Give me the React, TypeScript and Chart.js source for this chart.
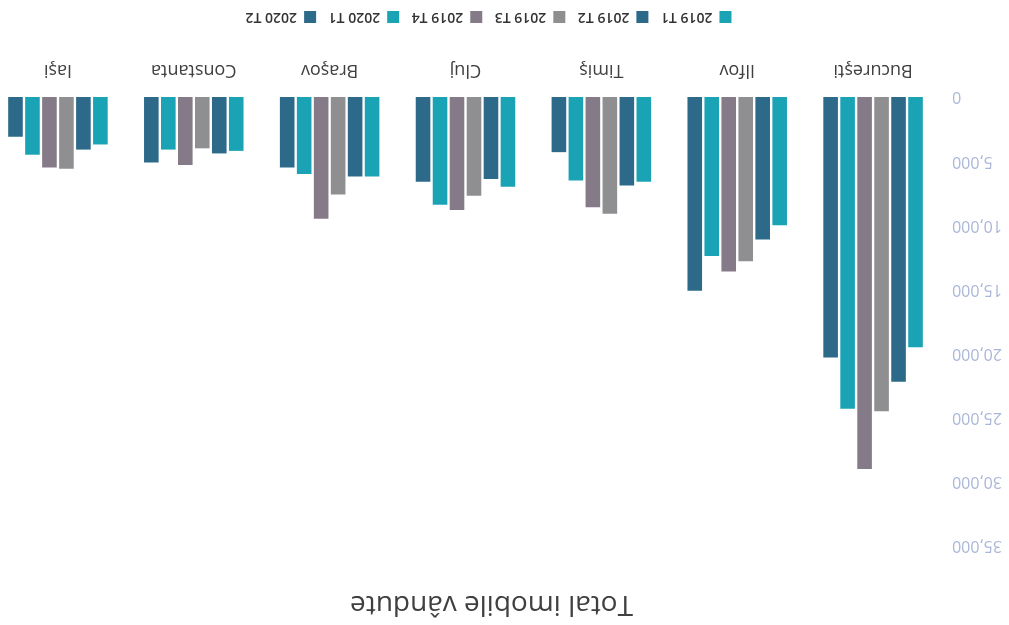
import { useEffect, useRef } from 'react';
import { Chart, registerables } from 'chart.js';

Chart.register(...registerables);

const categories = ['Bucureşti', 'Ilfov', 'Timiş', 'Cluj', 'Braşov', 'Constanta', 'Iaşi'];
const seriesNames = ['2019 T1', '2019 T2', '2019 T3', '2019 T4', '2020 T1', '2020 T2'];
const s2019T1 = [19500, 10000, 6600, 7000, 6200, 4200, 3700];
const s2019T2 = [22200, 11100, 6900, 6400, 6200, 4400, 4100];
const s2019T3 = [24500, 12800, 9100, 7700, 7600, 4000, 5600];
const s2019T4 = [29000, 13600, 8600, 8800, 9500, 5300, 5500];
const s2020T1 = [24300, 12400, 6500, 8400, 6000, 4100, 4500];
const s2020T2 = [20300, 15100, 4300, 6600, 5500, 5100, 3100];
const seriesValues = [s2019T1, s2019T2, s2019T3, s2019T4, s2020T1, s2020T2];
const seriesColors = ['#1aa3b5', '#2d6a89', '#8f8e91', '#857a87', '#1aa3b5', '#2d6a89'];
const yMin = 0;
const yMax = 35000;
const yStep = 5000;
const titleText = 'Total imobile vândute';

const FONT = '"Open Sans", "Noto Sans", sans-serif';

// nudges the centred title and legend blocks sideways, as in the reference
const blockShift = {
  id: 'blockShift',
  afterLayout(chart: any) {
    for (const b of chart.boxes) {
      if (b === chart.titleBlock) {
        b.left += 8;
        b.right += 8;
      } else if (b === chart.legend) {
        b.left += 11;
        b.right += 11;
      }
    }
  },
};

export default function App() {
  const ref = useRef<HTMLCanvasElement>(null);

  useEffect(() => {
    if (!ref.current) return;
    const chart = new Chart(ref.current, {
      type: 'bar',
      data: {
        labels: categories,
        datasets: seriesNames.map((name, i) => ({
          label: name,
          data: seriesValues[i],
          backgroundColor: seriesColors[i],
          borderWidth: 0,
          categoryPercentage: 0.75,
          barPercentage: 0.86,
        })),
      },
      plugins: [blockShift],
      options: {
        responsive: false,
        animation: false,
        devicePixelRatio: 1,
        layout: { padding: { left: 0, right: 1, top: 0, bottom: 0 } },
        plugins: {
          title: {
            display: true,
            text: titleText,
            color: '#404040',
            font: { family: FONT, size: 28, weight: 'normal' },
            padding: { top: 4, bottom: 41.4 },
          },
          legend: {
            position: 'bottom',
            labels: {
              boxWidth: 12,
              boxHeight: 12,
              padding: 12.5,
              color: '#333333',
              font: { family: FONT, size: 14, weight: '600' },
            },
          },
          tooltip: { enabled: false },
        },
        scales: {
          x: {
            grid: { display: false, drawTicks: false },
            border: { display: false },
            ticks: {
              padding: 16,
              color: '#404040',
              font: { family: FONT, size: 18 },
            },
            afterFit: (s: any) => {
              s.height = 60.5;
            },
          },
          y: {
            min: yMin,
            max: yMax,
            grid: { display: false, drawTicks: false },
            border: { display: false },
            ticks: {
              stepSize: yStep,
              padding: 11,
              color: '#a9b6d6',
              font: { family: FONT, size: 16 },
            },
            afterFit: (s: any) => {
              s.width = 68;
            },
          },
        },
      },
    });
    return () => chart.destroy();
  }, []);

  return (
    <div
      style={{
        position: 'fixed',
        left: 0,
        top: 0,
        width: 1009,
        height: 625,
        overflow: 'hidden',
        background: '#ffffff',
      }}
    >
      <div
        style={{
          position: 'absolute',
          left: 0,
          top: 0,
          width: 1009,
          height: 625,
          transform: 'rotate(180deg)',
          transformOrigin: '50% 50%',
        }}
      >
        <canvas
          ref={ref}
          width={1020}
          height={625}
          style={{ position: 'absolute', left: 0, top: 0, width: 1020, height: 625, display: 'block' }}
        />
      </div>
    </div>
  );
}
